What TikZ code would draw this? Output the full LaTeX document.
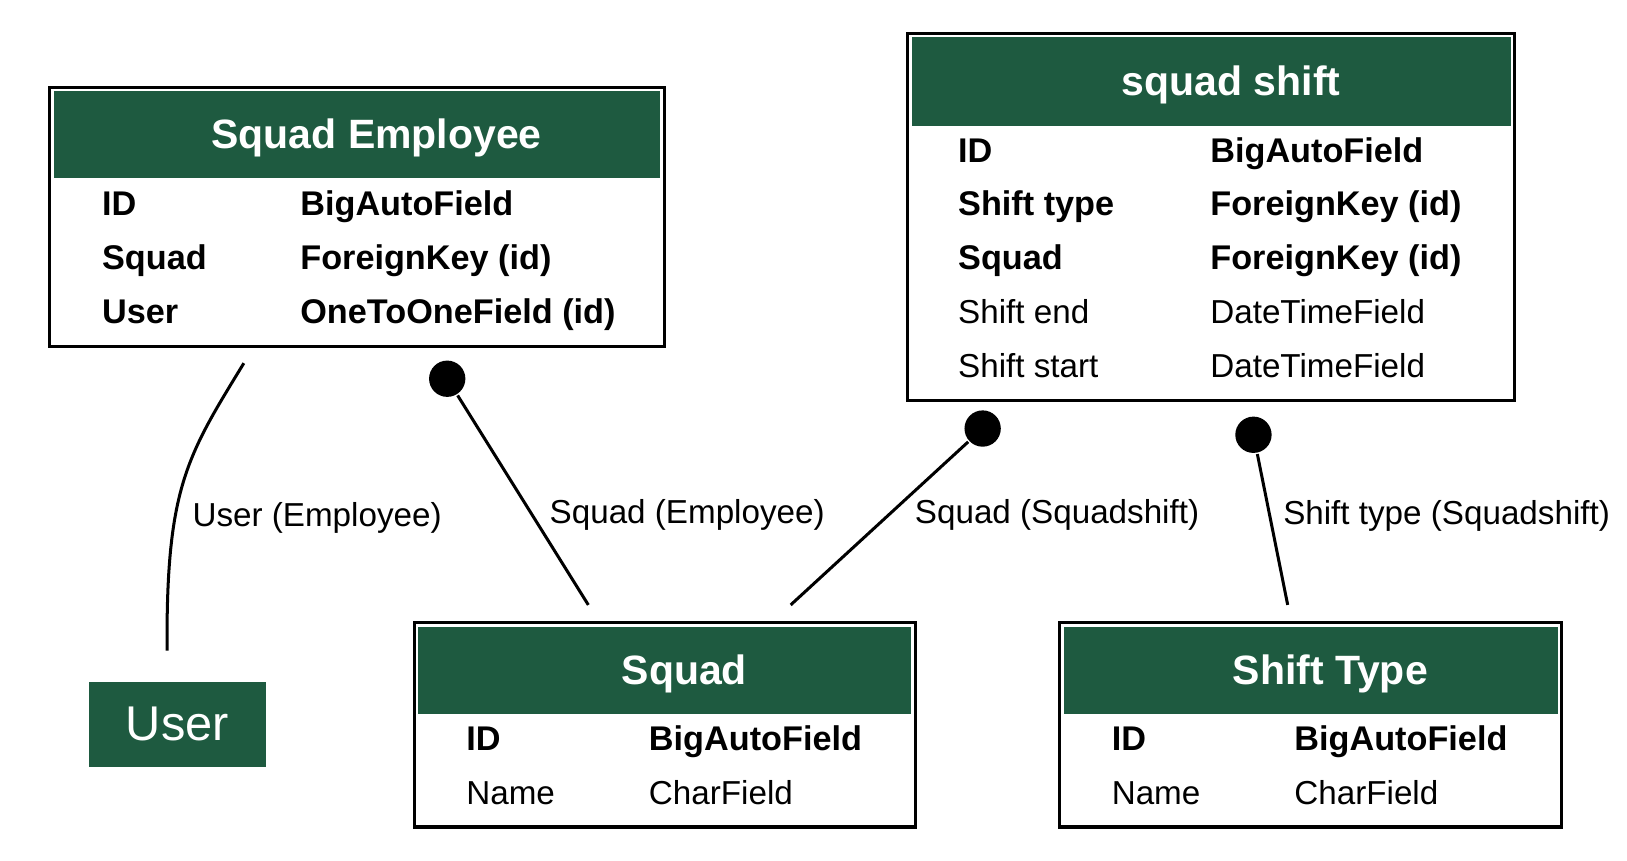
\documentclass[tikz,border=0pt]{standalone}
\usepackage{fontspec}
\setmainfont{Liberation Sans}
\usepackage{tikz}
\usetikzlibrary{positioning}

\definecolor{erdgreen}{HTML}{1E5A40}

\begin{document}
\begin{tikzpicture}[x=0.5pt,y=-0.5pt,line width=1.45pt,
                    model/.style={draw,fill=white,inner sep=0pt},
                    modelhead/.style={fill=erdgreen,text=white,inner sep=0pt,
                                      text height=15.5pt,text depth=2.2pt,
                                      execute at begin node=\hspace*{19pt},
                                      font=\bfseries\fontsize{19.75}{24}\selectfont},
                    keyrow/.style={anchor=base west,inner sep=0pt,
                                   font=\bfseries\fontsize{16.5}{19}\selectfont},
                    fieldrow/.style={anchor=base west,inner sep=0pt,
                                     font=\fontsize{16}{19}\selectfont},
                    fkdot/.style={circle,fill,inner sep=0pt,minimum size=17.5pt},
                    lbl/.style={anchor=west,inner sep=0pt,yshift=-1pt,
                                font=\fontsize{16}{19}\selectfont}]
  \useasboundingbox (0,0) rectangle (1568,829);

  % Squad Employee
  \node[model,minimum width=296pt,minimum height=125pt] (emp) at (344,209) {};
  \node[modelhead,minimum width=292pt,minimum height=42pt] (emp-head) at (344,130) {Squad Employee};
  \node[keyrow] (emp-id)      at (97,208)  {ID};
  \node[keyrow] (emp-id-t)    at (288,208) {BigAutoField};
  \node[keyrow] (emp-squad-f) at (97,260)  {Squad};
  \node[keyrow] (emp-squad-t) at (288,260) {ForeignKey (id)};
  \node[keyrow] (emp-user-f)  at (97,312)  {User};
  \node[keyrow] (emp-user-t)  at (288,312) {OneToOneField (id)};

  % squad shift
  \node[model,minimum width=292.5pt,minimum height=177pt] (shift) at (1167.5,209) {};
  \node[modelhead,minimum width=288.5pt,minimum height=42.5pt] (shift-head) at (1167.5,78.5) {squad shift};
  \node[keyrow]   (shift-id)      at (922,157)  {ID};
  \node[keyrow]   (shift-id-t)    at (1165,157) {BigAutoField};
  \node[keyrow]   (shift-type-f)  at (922,208)  {Shift type};
  \node[keyrow]   (shift-type-t)  at (1165,208) {ForeignKey (id)};
  \node[keyrow]   (shift-squad-f) at (922,260)  {Squad};
  \node[keyrow]   (shift-squad-t) at (1165,260) {ForeignKey (id)};
  \node[fieldrow] (shift-end)     at (922,312)  {Shift end};
  \node[fieldrow] (shift-end-t)   at (1165,312) {DateTimeField};
  \node[fieldrow] (shift-start)   at (922,364)  {Shift start};
  \node[fieldrow] (shift-start-t) at (1165,364) {DateTimeField};

  % Squad
  \node[model,minimum width=241.5pt,minimum height=98.5pt] (squad) at (640.5,698.5) {};
  \node[modelhead,minimum width=237.5pt,minimum height=42pt] (squad-head) at (640.5,646) {Squad};
  \node[keyrow]   (squad-id)     at (448,723) {ID};
  \node[keyrow]   (squad-id-t)   at (624,723) {BigAutoField};
  \node[fieldrow] (squad-name)   at (448,775) {Name};
  \node[fieldrow] (squad-name-t) at (624,775) {CharField};

  % Shift Type
  \node[model,minimum width=242pt,minimum height=98.5pt] (stype) at (1263,698.5) {};
  \node[modelhead,minimum width=238pt,minimum height=42pt] (stype-head) at (1263,646) {Shift Type};
  \node[keyrow]   (stype-id)     at (1070,723) {ID};
  \node[keyrow]   (stype-id-t)   at (1246,723) {BigAutoField};
  \node[fieldrow] (stype-name)   at (1070,775) {Name};
  \node[fieldrow] (stype-name-t) at (1246,775) {CharField};

  % User
  \node[fill=erdgreen,text=white,minimum width=85pt,minimum height=41pt,
        font=\fontsize{23.5}{28}\selectfont] (user) at (171,698) {User};

  % relations
  \coordinate (emp-user) at (235,350);
  \coordinate (user-top) at (161,627);
  \node[fkdot] (emp-squad)   at (431,365)  {};
  \coordinate  (squad-emp)   at (567,583);
  \node[fkdot] (shift-squad) at (947,413)  {};
  \coordinate  (squad-shift) at (762,583);
  \node[fkdot] (shift-stype) at (1208,419) {};
  \coordinate  (stype-shift) at (1241,583);

  \draw (emp-user) .. controls (180,440) and (160,470) .. (user-top)
        node[lbl,pos=0.62,xshift=7.2pt,yshift=-2pt] {User (Employee)};
  \path (emp-squad)   edge node[lbl,pos=0.562,xshift=8.25pt] {Squad (Employee)} (squad-emp)
        (shift-squad) edge node[lbl,pos=0.437,xshift=11pt] {Squad (Squadshift)} (squad-shift)
        (shift-stype) edge node[lbl,pos=0.394,xshift=6pt] {Shift type (Squadshift)} (stype-shift);
\end{tikzpicture}
\end{document}
